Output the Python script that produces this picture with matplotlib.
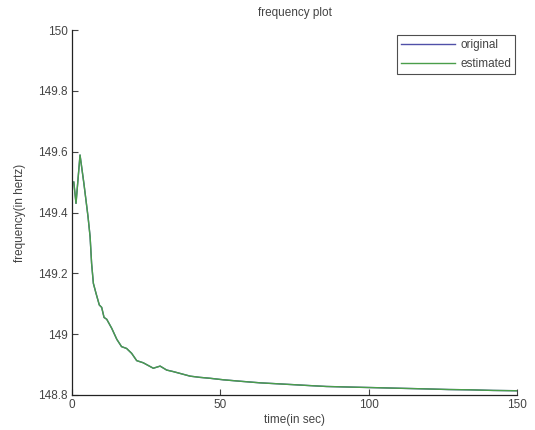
import matplotlib
matplotlib.use("Agg")
import matplotlib.pyplot as plt

# values
time_sec = [0.6, 1.35, 2.7, 4.0, 5.4, 6.1, 6.6, 7.2, 8.1, 9.2, 10.0, 10.8, 11.7,
            13.4, 15.1, 16.7, 18.4, 20.1, 21.8, 24.0, 27.4, 29.7, 31.9, 34.1,
            36.4, 39.8, 43.1, 46.5, 51.0, 57.0, 63.4, 69.0, 74.6, 80.0, 85.8,
            94.0, 102.7, 111.0, 119.5, 127.0, 134.1, 142.0, 149.9]
freq_original = [149.50, 149.43, 149.589, 149.496, 149.386, 149.32, 149.233,
                 149.167, 149.134, 149.096, 149.088, 149.055, 149.049, 149.019,
                 148.983, 148.959, 148.953, 148.937, 148.913, 148.906, 148.888,
                 148.895, 148.882, 148.877, 148.871, 148.862, 148.858, 148.855,
                 148.850, 148.845, 148.840, 148.837, 148.834, 148.831, 148.828,
                 148.826, 148.824, 148.822, 148.820, 148.818, 148.817, 148.815,
                 148.814]
freq_estimated = list(freq_original)

x_ticks = [0, 50, 100, 150]
y_ticks = [148.8, 149, 149.2, 149.4, 149.6, 149.8, 150]
y_tick_labels = ["148.8", "149", "149.2", "149.4", "149.6", "149.8", "150"]

plt.rcParams["font.family"] = ["Liberation Sans", "DejaVu Sans"]
text_col = "#444444"

fig = plt.figure(figsize=(5.35, 4.3), dpi=100)
ax = fig.add_axes([0.1346, 0.0814, 0.8318, 0.8488])

ax.plot(time_sec, freq_original, color="#5050a8", lw=1.0, label="original")
ax.plot(time_sec, freq_estimated, color="#4a9e4a", lw=1.0, label="estimated")

ax.set_xlim(0, 150)
ax.set_ylim(148.8, 150)
ax.set_xticks(x_ticks)
ax.set_yticks(y_ticks)
ax.set_yticklabels(y_tick_labels)
ax.tick_params(direction="in", length=4, width=0.8, labelsize=8.5,
               colors=text_col, pad=3)
ax.spines["top"].set_visible(False)
ax.spines["right"].set_visible(False)
for s in ["left", "bottom"]:
    ax.spines[s].set_color("#222222")
    ax.spines[s].set_linewidth(0.9)

ax.set_title("frequency plot", fontsize=8.5, color=text_col, pad=10)
ax.set_xlabel("time(in sec)", fontsize=8.5, color=text_col, labelpad=2)
ax.set_ylabel("frequency(in hertz)", fontsize=8.5, color=text_col, labelpad=9)

leg = ax.legend(loc="upper right", bbox_to_anchor=(0.9955, 0.986),
                borderaxespad=0, fontsize=8.5, frameon=True, fancybox=False,
                handlelength=4.6, borderpad=0.35, labelspacing=0.6,
                handletextpad=0.4)
leg.get_frame().set_edgecolor("#222222")
leg.get_frame().set_linewidth(0.8)
for t in leg.get_texts():
    t.set_color(text_col)

fig.savefig("out.png", dpi=100)
